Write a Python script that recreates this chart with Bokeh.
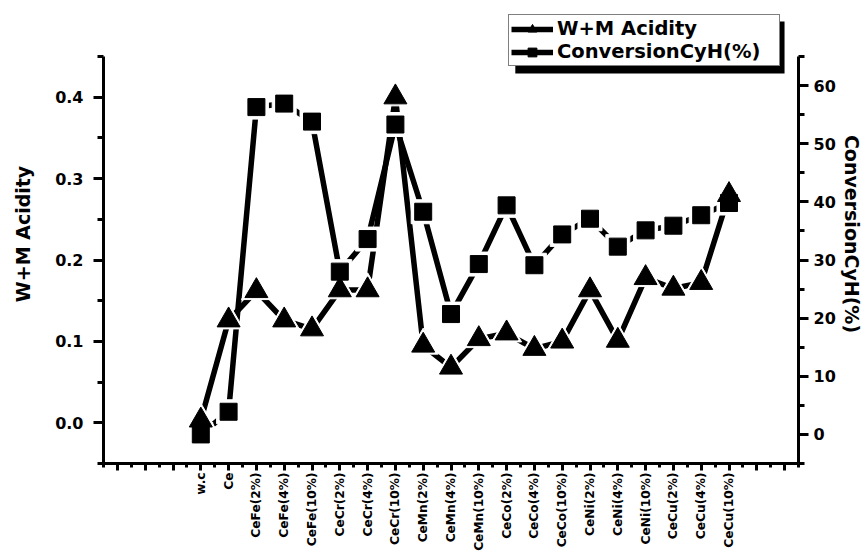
from bokeh.plotting import figure
from bokeh.models import Range1d, LinearAxis, FixedTicker, Legend, LegendItem, PrintfTickFormatter, BoxAnnotation
from bokeh.embed import file_html
from bokeh.resources import INLINE
from math import pi

categories = ["w.c", "Ce", "CeFe(2%)", "CeFe(4%)", "CeFe(10%)", "CeCr(2%)", "CeCr(4%)",
              "CeCr(10%)", "CeMn(2%)", "CeMn(4%)", "CeMn(10%)", "CeCo(2%)", "CeCo(4%)",
              "CeCo(10%)", "CeNi(2%)", "CeNi(4%)", "CeNi(10%)", "CeCu(2%)", "CeCu(4%)", "CeCu(10%)"]
acidity = [0.003, 0.126, 0.162, 0.126, 0.115, 0.163, 0.163, 0.400, 0.095, 0.068,
           0.103, 0.110, 0.091, 0.100, 0.163, 0.101, 0.178, 0.165, 0.172, 0.280]
conversion = [0.0, 3.9, 56.3, 56.9, 53.8, 28.0, 33.6, 53.3, 38.3, 20.7,
              29.3, 39.4, 29.1, 34.4, 37.1, 32.3, 35.1, 35.9, 37.7, 39.8]
acid_ticks = [0.0, 0.1, 0.2, 0.3, 0.4]
acid_minor = [-0.05, 0.05, 0.15, 0.25, 0.35, 0.45]
conv_ticks = [0, 10, 20, 30, 40, 50, 60]
conv_minor = [-5, 5, 15, 25, 35, 45, 55, 65]
acid_bounds = (-0.05, 0.45)
conv_bounds = (-5, 65)
x_bounds = (-2.5, 22.5)

xpos = list(range(1, len(categories) + 1))
x_major = list(range(-2, 23))
x_minor = [v + 0.5 for v in range(-3, 23)]

FONT = "DejaVu Sans"

# layout geometry (pixels)
W, H = 865, 553
FRAME_TOP, AXIS_TOP, FRAME_BOTTOM = 4, 56, 463
LEFT, RIGHT = 103, 800
frac = (FRAME_BOTTOM - FRAME_TOP) / (FRAME_BOTTOM - AXIS_TOP)

acid_end = acid_bounds[0] + (acid_bounds[1] - acid_bounds[0]) * frac
conv_end = conv_bounds[0] + (conv_bounds[1] - conv_bounds[0]) * frac

def px_to_x(px):
    return x_bounds[0] + (px - LEFT) * (x_bounds[1] - x_bounds[0]) / (RIGHT - LEFT)

def py_to_y(py):
    return acid_bounds[0] + (FRAME_BOTTOM - py) * (acid_bounds[1] - acid_bounds[0]) / (FRAME_BOTTOM - AXIS_TOP)

p = figure(width=W, height=H, x_range=Range1d(*x_bounds), y_range=Range1d(acid_bounds[0], acid_end),
           output_backend="svg", toolbar_location=None,
           min_border_left=LEFT, min_border_right=W - RIGHT, min_border_top=FRAME_TOP,
           min_border_bottom=H - FRAME_BOTTOM)
p.extra_y_ranges = {"conv": Range1d(conv_bounds[0], conv_end)}
p.xgrid.visible = False
p.ygrid.visible = False
p.outline_line_color = None
p.background_fill_color = "white"

def style_axis(ax, font_size):
    ax.axis_line_width = 3
    ax.axis_line_color = "black"
    ax.major_tick_line_width = 3
    ax.minor_tick_line_width = 3
    ax.major_tick_in = 0
    ax.minor_tick_in = 0
    ax.major_label_text_font = FONT
    ax.major_label_text_font_style = "bold"
    ax.major_label_text_font_size = font_size
    ax.major_label_text_color = "black"
    ax.axis_label_text_font = FONT
    ax.axis_label_text_font_style = "bold"
    ax.axis_label_text_font_size = "19px"
    ax.axis_label_text_color = "black"

# bottom axis
xa = p.xaxis[0]
xa.ticker = FixedTicker(ticks=x_major, minor_ticks=x_minor)
overrides = {t: "" for t in x_major}
for i, c in zip(xpos, categories):
    overrides[i] = c
xa.major_label_overrides = overrides
style_axis(xa, "12.2px")
xa.major_tick_out = 7
xa.minor_tick_out = 4
xa.major_label_standoff = 2
xa.major_label_orientation = pi / 2

# left axis
ya = p.yaxis[0]
ya.ticker = FixedTicker(ticks=acid_ticks, minor_ticks=acid_minor)
ya.formatter = PrintfTickFormatter(format="%.1f")
ya.bounds = acid_bounds
style_axis(ya, "16px")
ya.major_tick_out = 10
ya.minor_tick_out = 6
ya.major_label_standoff = 10
ya.axis_label = "W+M Acidity"
ya.axis_label_standoff = 18

# right axis
ra = LinearAxis(y_range_name="conv", ticker=FixedTicker(ticks=conv_ticks, minor_ticks=conv_minor),
                bounds=conv_bounds)
style_axis(ra, "16px")
ra.major_tick_out = 10
ra.minor_tick_out = 6
ra.major_label_standoff = 5
ra.axis_label = "ConversionCyH(%)"
ra.axis_label_standoff = 2
p.add_layout(ra, "right")

# lines
l2 = p.line(xpos, conversion, line_width=5.5, color="black", y_range_name="conv")
l1 = p.line(xpos, acidity, line_width=5.5, color="black")
# white halos to give the gap around markers
p.scatter(xpos, conversion, marker="square", size=24, color="white", y_range_name="conv")
p.scatter(xpos, acidity, marker="triangle", size=30, color="white")
# markers
m2 = p.scatter(xpos, conversion, marker="square", size=17, color="black", y_range_name="conv")
m1 = p.scatter(xpos, acidity, marker="triangle", size=23, color="black")

# legend box geometry (pixels): left 508, bottom 66, width 270, height ~51; shadow offset (8, 7)
LG_LEFT, LG_BOTTOM, LG_W, LG_H = 508, 66, 270, 51
shadow = BoxAnnotation(left=px_to_x(LG_LEFT + 8), right=px_to_x(LG_LEFT + LG_W + 8),
                       top=py_to_y(LG_BOTTOM - LG_H + 6), bottom=py_to_y(LG_BOTTOM + 7),
                       fill_color="black", fill_alpha=1.0, line_alpha=0.0)
p.add_layout(shadow)

items = [LegendItem(label="W+M Acidity", renderers=[l1, m1]),
         LegendItem(label="ConversionCyH(%)", renderers=[l2, m2])]
legend = Legend(items=items, location=(LG_LEFT - LEFT, FRAME_BOTTOM - LG_BOTTOM), margin=0,
                padding=2, spacing=0, label_height=22, glyph_height=22, glyph_width=42,
                label_standoff=4, label_width=220,
                label_text_font=FONT, label_text_font_style="bold", label_text_font_size="19.5px",
                label_text_color="black", border_line_color="black", border_line_width=1.5,
                background_fill_color="white", background_fill_alpha=1.0)
p.add_layout(legend, "center")

open("out.html", "w").write(file_html(p, INLINE))
